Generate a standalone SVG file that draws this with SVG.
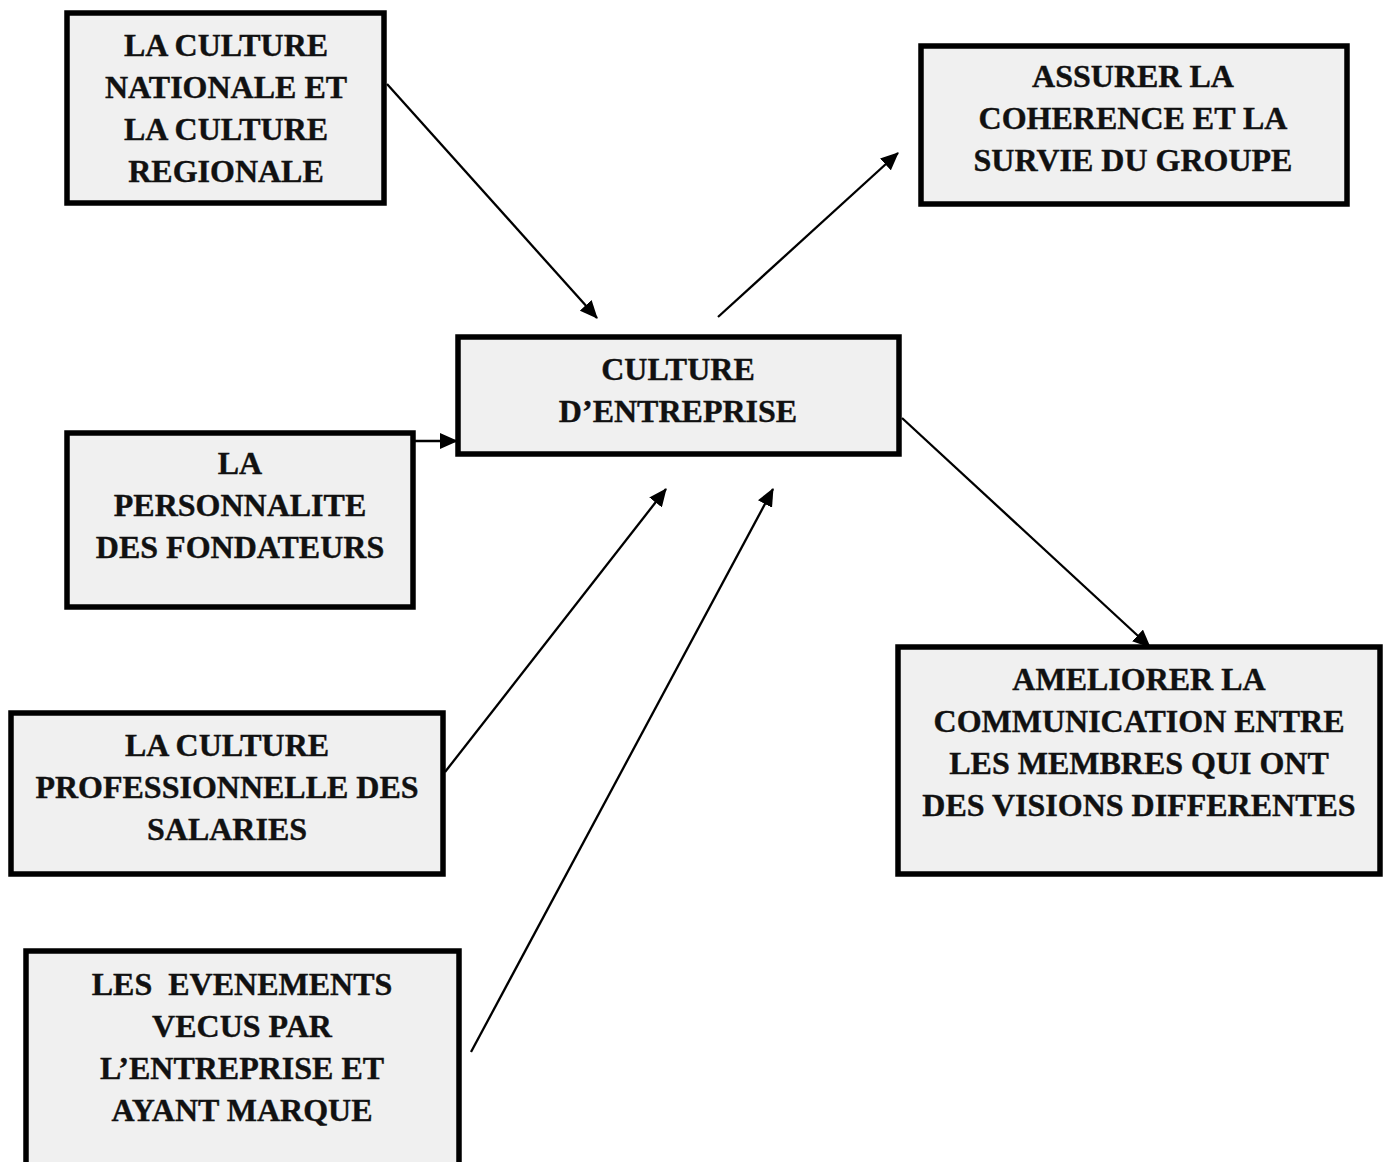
<svg xmlns="http://www.w3.org/2000/svg" width="1389" height="1162" viewBox="0 0 1389 1162">
  <style>
    .box { fill: #f0f0f0; stroke: #000; stroke-width: 5.5; }
    .lbl { font-family: "Liberation Serif", "Times New Roman", serif; font-weight: bold; font-size: 32px; fill: #111; text-anchor: middle; stroke: #111; stroke-width: 0.4; }
    .edge { stroke: #000; stroke-width: 2.3; fill: none; marker-end: url(#head); }
  </style>
  <defs>
    <marker id="head" markerUnits="userSpaceOnUse" markerWidth="18" markerHeight="16" refX="17" refY="8" orient="auto">
      <path d="M0,0 L18,8 L0,16 Z" fill="#000"/>
    </marker>
  </defs>
  <rect width="1389" height="1162" fill="#fff"/>

  <g id="connectors">
    <line class="edge" x1="387" y1="84" x2="597" y2="318"/>
    <line class="edge" x1="718" y1="317" x2="898" y2="153"/>
    <line class="edge" x1="415" y1="441" x2="457" y2="441"/>
    <line class="edge" x1="445" y1="772" x2="666" y2="489"/>
    <line class="edge" x1="471" y1="1052" x2="773" y2="489"/>
    <line class="edge" x1="902" y1="418" x2="1150" y2="647"/>
  </g>

  <g id="culture-nationale">
    <rect class="box" x="67" y="13" width="317" height="190"/>
    <text class="lbl" x="226" y="56">LA CULTURE</text>
    <text class="lbl" x="226" y="98">NATIONALE ET</text>
    <text class="lbl" x="226" y="140">LA CULTURE</text>
    <text class="lbl" x="226" y="182">REGIONALE</text>
  </g>

  <g id="assurer-coherence">
    <rect class="box" x="921" y="46" width="426" height="158"/>
    <text class="lbl" x="1133" y="87">ASSURER LA</text>
    <text class="lbl" x="1133" y="129">COHERENCE ET LA</text>
    <text class="lbl" x="1133" y="171">SURVIE DU GROUPE</text>
  </g>

  <g id="culture-entreprise">
    <rect class="box" x="458" y="337" width="441" height="117"/>
    <text class="lbl" x="678" y="380">CULTURE</text>
    <text class="lbl" x="678" y="422">D’ENTREPRISE</text>
  </g>

  <g id="personnalite-fondateurs">
    <rect class="box" x="67" y="433" width="346" height="174"/>
    <text class="lbl" x="240" y="474">LA</text>
    <text class="lbl" x="240" y="516">PERSONNALITE</text>
    <text class="lbl" x="240" y="558">DES FONDATEURS</text>
  </g>

  <g id="culture-professionnelle">
    <rect class="box" x="11" y="713" width="432" height="161"/>
    <text class="lbl" x="227" y="756">LA CULTURE</text>
    <text class="lbl" x="227" y="798">PROFESSIONNELLE DES</text>
    <text class="lbl" x="227" y="840">SALARIES</text>
  </g>

  <g id="evenements-vecus">
    <rect class="box" x="26" y="951" width="433" height="240"/>
    <text class="lbl" x="242" y="995" xml:space="preserve">LES  EVENEMENTS</text>
    <text class="lbl" x="242" y="1037">VECUS PAR</text>
    <text class="lbl" x="242" y="1079">L’ENTREPRISE ET</text>
    <text class="lbl" x="242" y="1121">AYANT MARQUE</text>
  </g>

  <g id="ameliorer-communication">
    <rect class="box" x="898" y="647" width="482" height="227"/>
    <text class="lbl" x="1139" y="690">AMELIORER LA</text>
    <text class="lbl" x="1139" y="732">COMMUNICATION ENTRE</text>
    <text class="lbl" x="1139" y="774">LES MEMBRES QUI ONT</text>
    <text class="lbl" x="1139" y="816">DES VISIONS DIFFERENTES</text>
  </g>
</svg>
